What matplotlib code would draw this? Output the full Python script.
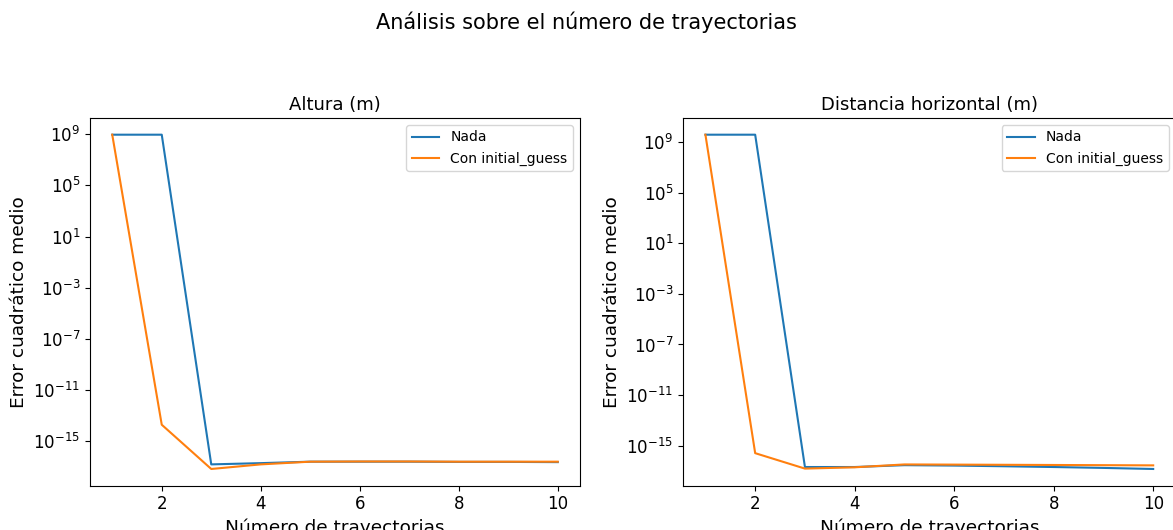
import matplotlib.pyplot as plt

# número de trayectorias
n_tray = [1, 2, 3, 4, 5, 6, 7, 8, 9, 10]

# Altura (m)
altura_nada = [9e8, 9e8, 1.6e-17, 2.0e-17, 2.6e-17, 2.6e-17, 2.6e-17, 2.5e-17, 2.5e-17, 2.4e-17]
altura_guess = [9e8, 2e-14, 7e-18, 1.6e-17, 2.6e-17, 2.7e-17, 2.7e-17, 2.6e-17, 2.6e-17, 2.6e-17]

# Distancia horizontal (m)
dist_nada = [4e9, 4e9, 2.0e-17, 2.0e-17, 2.8e-17, 2.6e-17, 2.3e-17, 2.0e-17, 1.7e-17, 1.4e-17]
dist_guess = [4e9, 2.5e-16, 1.5e-17, 1.9e-17, 3.2e-17, 3.1e-17, 3.0e-17, 2.9e-17, 2.8e-17, 2.7e-17]

fig = plt.figure(figsize=(11.73, 5.3), dpi=100)
fig.suptitle("Análisis sobre el número de trayectorias", fontsize=15, y=0.978)

ax1 = fig.add_axes([0.0767, 0.0836, 0.4178, 0.6938])
ax2 = fig.add_axes([0.5823, 0.0836, 0.4199, 0.6938])

for ax, nada, guess, titulo in [(ax1, altura_nada, altura_guess, "Altura (m)"),
                                (ax2, dist_nada, dist_guess, "Distancia horizontal (m)")]:
    ax.plot(n_tray, nada, label="Nada")
    ax.plot(n_tray, guess, label="Con initial_guess")
    ax.set_yscale("log")
    ax.set_title(titulo, fontsize=13)
    ax.set_xlabel("Número de trayectorias", fontsize=13.3)
    ax.set_ylabel("Error cuadrático medio", fontsize=13.3)
    ax.tick_params(labelsize=12)
    ax.legend(fontsize=10, loc="upper right")

ax1.set_yticks([1e-15, 1e-11, 1e-7, 1e-3, 1e1, 1e5, 1e9])
ax2.set_yticks([1e-15, 1e-11, 1e-7, 1e-3, 1e1, 1e5, 1e9])
ax1.minorticks_off()
ax2.minorticks_off()

fig.savefig("out.png", dpi=100)
